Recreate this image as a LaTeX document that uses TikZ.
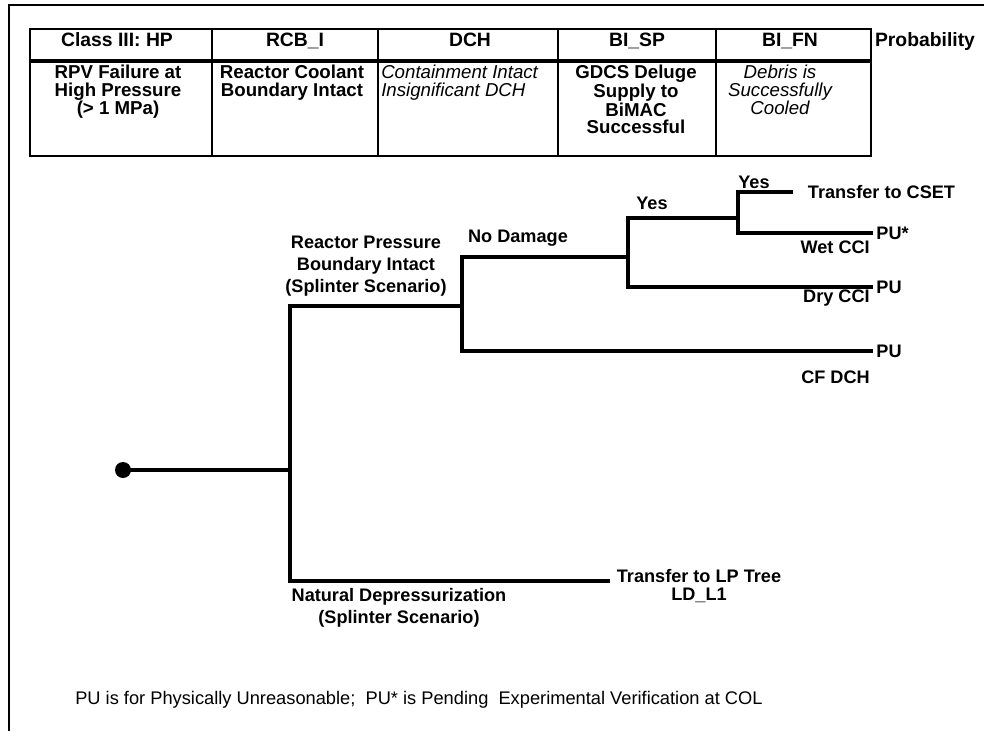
\documentclass[tikz,border=0pt]{standalone}
\usepackage{fontspec}
\setmainfont{Liberation Sans}
\usetikzlibrary{positioning}

\begin{document}
\begin{tikzpicture}[
  x=0.75pt, y=-0.75pt,
  tbl/.style     = {line width=1.4pt},
  tblsep/.style  = {line width=2.4pt},
  hdr/.style     = {anchor=base, inner sep=0pt, font=\fontsize{14.5}{14}\selectfont\bfseries},
  cell/.style    = {anchor=north, inner sep=0pt, align=center, font=\fontsize{14}{13}\selectfont\bfseries},
  icell/.style   = {cell, font=\fontsize{14}{13}\selectfont\itshape},
  branch/.style  = {line width=3pt},
  lbl/.style     = {inner sep=0pt, align=center, font=\fontsize{13.6}{16.5}\selectfont\bfseries},
  endlbl/.style  = {lbl, anchor=west, inner sep=2.4pt},
  outlbl/.style  = {lbl, anchor=east},
  note/.style    = {inner sep=0pt, anchor=west, font=\fontsize{13.7}{16}\selectfont}
]
\useasboundingbox (0,0) rectangle (984,731);

%% ── Page frame ──────────────────────────────────────────────────────────────
\draw[line width=1.5pt] (9,731) -- (9,5) -- (984,5);

%% ── Event table ─────────────────────────────────────────────────────────────
\draw[tbl] (30,29) rectangle (871,156);
\draw[tblsep] (30,61) -- (871,61);
\foreach \x in {212,378,558,716}
  \draw[tbl] (\x,29) -- (\x,156);

\node[hdr] (hClass) at (117,47) {Class III: HP};
\node[hdr] (hRcb)   at (295,47) {RCB\_I};
\node[hdr] (hDch)   at (470,47) {DCH};
\node[hdr] (hSp)    at (637,47) {BI\_SP};
\node[hdr] (hFn)    at (790,47) {BI\_FN};
\node[hdr] (hProb)  at (925,47) {Probability};

\node[cell]  (dClass) at (118,65) {RPV Failure at\\High Pressure\\(> 1 MPa)};
\node[cell]  (dRcb)   at (292,65) {Reactor Coolant\\Boundary Intact};
\node[icell, anchor=north west, align=left] (dDch) at (381,65) {Containment Intact\\Insignificant DCH};
\node[cell]  (dSp)    at (636,65) {GDCS Deluge\\Supply to\\BiMAC\\Successful};
\node[icell] (dFn)    at (780,65) {Debris is\\Successfully\\Cooled};

%% ── Tree: split points and free ends ───────────────────────────────────────
\node[circle, fill=black, inner sep=0pt, minimum size=12pt] (init) at (123,470) {};
\coordinate (s1)   at (290,470);
\coordinate (s2)   at (462,306);
\coordinate (s3)   at (628,257);
\coordinate (s4)   at (738,218);
\coordinate (eLp)  at (610,581);

%% ── Tree: end labels ────────────────────────────────────────────────────────
\node[endlbl, inner xsep=11pt] (cset) at (793,192) {Transfer to CSET};
\node[endlbl] (puWet) at (873,233) {PU*};
\node[endlbl] (puDry) at (873,287) {PU};
\node[endlbl] (puCf)  at (873,351) {PU};
\node[lbl, font=\fontsize{13.6}{13}\selectfont\bfseries] (lpTree) at (699,586) {Transfer to LP Tree\\LD\_L1};

%% ── Tree: branches ──────────────────────────────────────────────────────────
\draw[branch] (init.center) -- (s1);
\draw[branch] (s1) |- (s2);
\draw[branch] (s1) |- (eLp);
\draw[branch] (s2) |- (s3);
\draw[branch] (s2) |- (puCf);
\draw[branch] (s3) |- (s4);
\draw[branch] (s3) |- (puDry);
\draw[branch] (s4) |- (cset);
\draw[branch] (s4) |- (puWet);

%% ── Tree: branch labels ─────────────────────────────────────────────────────
\node[lbl] (rpbLbl)  at (366,266) {Reactor Pressure\\Boundary Intact\\(Splinter Scenario)};
\node[lbl] (ndLbl)   at (399,608) {Natural Depressurization\\(Splinter Scenario)};
\node[lbl] (noDmg)   at (518,238) {No Damage};
\node[lbl] (yesOne)  at (652,203) {Yes};
\node[lbl] (yesTwo)  at (754,182) {Yes};
\node[outlbl] (wetLbl) at (870,247) {Wet CCI};
\node[outlbl] (dryLbl) at (870,298) {Dry CCI};
\node[outlbl] (cfLbl)  at (870,377) {CF DCH};

%% ── Footnote ────────────────────────────────────────────────────────────────
\node[note] (fnote) at (75,700) {PU is for Physically Unreasonable;\ \ PU* is Pending\ \ Experimental Verification at COL};

\end{tikzpicture}
\end{document}
